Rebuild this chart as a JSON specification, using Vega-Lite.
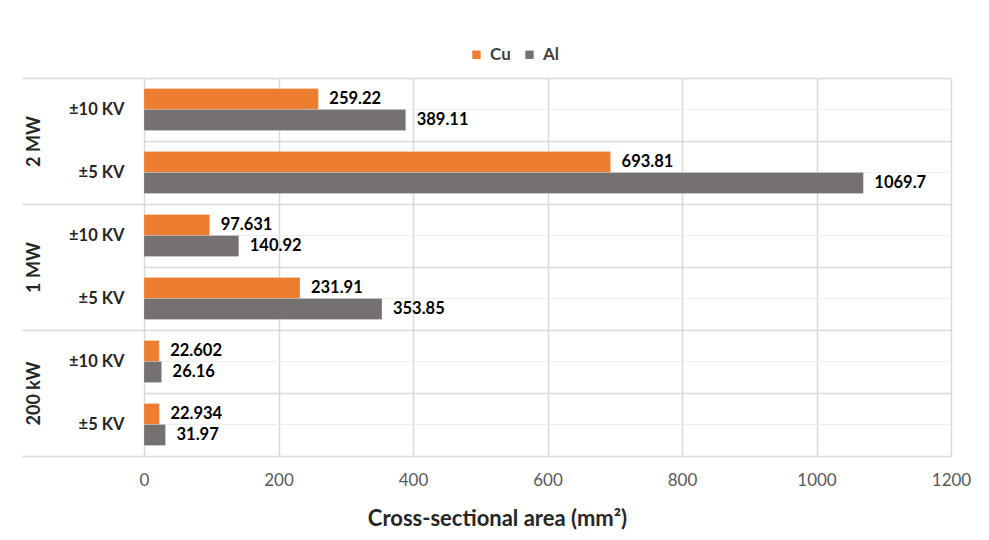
{
  "$schema": "https://vega.github.io/schema/vega-lite/v6.json",
  "autosize": "none",
  "width": 807,
  "height": 378,
  "padding": {"left": 144, "top": 78, "right": 38, "bottom": 84},
  "background": "white",
  "config": {
    "font": "Lato",
    "view": {"stroke": null},
    "axis": {"labelFont": "Lato", "titleFont": "Lato"}
  },
  "data": {
    "values": [
      {"group": "2 MW", "voltage": "±10 KV", "cat": "2 MW|±10 KV", "metal": "Cu", "value": 259.22},
      {"group": "2 MW", "voltage": "±10 KV", "cat": "2 MW|±10 KV", "metal": "Al", "value": 389.11},
      {"group": "2 MW", "voltage": "±5 KV", "cat": "2 MW|±5 KV", "metal": "Cu", "value": 693.81},
      {"group": "2 MW", "voltage": "±5 KV", "cat": "2 MW|±5 KV", "metal": "Al", "value": 1069.7},
      {"group": "1 MW", "voltage": "±10 KV", "cat": "1 MW|±10 KV", "metal": "Cu", "value": 97.631},
      {"group": "1 MW", "voltage": "±10 KV", "cat": "1 MW|±10 KV", "metal": "Al", "value": 140.92},
      {"group": "1 MW", "voltage": "±5 KV", "cat": "1 MW|±5 KV", "metal": "Cu", "value": 231.91},
      {"group": "1 MW", "voltage": "±5 KV", "cat": "1 MW|±5 KV", "metal": "Al", "value": 353.85},
      {"group": "200 kW", "voltage": "±10 KV", "cat": "200 kW|±10 KV", "metal": "Cu", "value": 22.602},
      {"group": "200 kW", "voltage": "±10 KV", "cat": "200 kW|±10 KV", "metal": "Al", "value": 26.16},
      {"group": "200 kW", "voltage": "±5 KV", "cat": "200 kW|±5 KV", "metal": "Cu", "value": 22.934},
      {"group": "200 kW", "voltage": "±5 KV", "cat": "200 kW|±5 KV", "metal": "Al", "value": 31.97}
    ]
  },
  "resolve": {"scale": {"y": "independent"}, "axis": {"y": "independent"}},
  "layer": [
    {
      "mark": {"type": "tick", "opacity": 0},
      "encoding": {
        "y": {
          "field": "cat", "type": "nominal",
          "sort": ["2 MW|±10 KV", "2 MW|±5 KV", "1 MW|±10 KV", "1 MW|±5 KV", "200 kW|±10 KV", "200 kW|±5 KV"],
          "scale": {"paddingInner": 0, "paddingOuter": 0},
          "axis": {"orient": "left", "title": null, "labels": false, "ticks": false, "domain": false, "grid": true, "gridColor": "#efefef", "gridWidth": 1}
        },
        "x": {"field": "value", "type": "quantitative", "scale": {"domain": [0, 1200]}}
      }
    },
    {
      "mark": {"type": "tick", "opacity": 0},
      "encoding": {
        "y": {
          "field": "group", "type": "nominal",
          "sort": ["2 MW", "1 MW", "200 kW"],
          "scale": {"paddingInner": 0, "paddingOuter": 0},
          "axis": {
            "orient": "left", "title": null, "domain": false, "grid": false,
            "tickBand": "extent", "tickSize": 122, "tickColor": "#d9d9d9", "tickWidth": 1.5,
            "labelAngle": -90, "labelAlign": "center", "labelBaseline": "bottom",
            "labelPadding": -21, "labelFontSize": 18, "labelFontWeight": "bold", "labelColor": "#262626"
          }
        },
        "x": {"field": "value", "type": "quantitative", "scale": {"domain": [0, 1200]}}
      }
    },
    {
      "mark": {"type": "bar", "stroke": "#ffffff", "strokeOpacity": 0.4, "strokeWidth": 0.5},
      "encoding": {
        "y": {
          "field": "cat", "type": "nominal",
          "sort": ["2 MW|±10 KV", "2 MW|±5 KV", "1 MW|±10 KV", "1 MW|±5 KV", "200 kW|±10 KV", "200 kW|±5 KV"],
          "scale": {"paddingInner": 0, "paddingOuter": 0},
          "axis": {
            "orient": "left", "title": null, "domain": false, "ticks": false,
            "grid": true, "tickBand": "extent", "gridColor": "#d9d9d9", "gridWidth": 1.5,
            "labelExpr": "split(datum.label, '|')[1]",
            "labelPadding": 20, "labelFontSize": 16.5, "labelFontWeight": "bold", "labelColor": "#262626"
          }
        },
        "yOffset": {
          "field": "metal", "type": "nominal", "sort": ["Cu", "Al"],
          "scale": {"paddingInner": 0, "paddingOuter": 0.5}
        },
        "x": {
          "field": "value", "type": "quantitative",
          "scale": {"domain": [0, 1200], "nice": false},
          "axis": {
            "values": [0, 200, 400, 600, 800, 1000, 1200], "format": "d",
            "grid": true, "gridColor": "#d9d9d9", "gridWidth": 1.5,
            "domain": false, "ticks": false, "tickSize": 0, "labelFlush": false,
            "labelPadding": 16, "labelFontSize": 17, "labelColor": "#595959",
            "title": "Cross-sectional area (mm²)", "titleFontSize": 22, "titleFontWeight": "bold",
            "titleColor": "#262626", "titlePadding": 20, "titleX": 353, "titleAnchor": "middle", "titleAlign": "center"
          }
        },
        "color": {
          "field": "metal", "type": "nominal",
          "scale": {"domain": ["Cu", "Al"], "range": ["#ED7D31", "#767171"]},
          "legend": {
            "title": null, "orient": "none", "direction": "horizontal",
            "legendX": 324, "legendY": -32,
            "symbolType": "square", "symbolSize": 70, "symbolStrokeWidth": 0,
            "labelFontSize": 17, "labelFontWeight": "bold", "labelColor": "#404040",
            "labelOffset": 5, "columnPadding": 10
          }
        }
      }
    },
    {
      "mark": {"type": "text", "align": "left", "baseline": "middle", "dx": 11, "fontSize": 16.5, "fontWeight": "bold", "color": "#000000"},
      "encoding": {
        "y": {
          "field": "cat", "type": "nominal",
          "sort": ["2 MW|±10 KV", "2 MW|±5 KV", "1 MW|±10 KV", "1 MW|±5 KV", "200 kW|±10 KV", "200 kW|±5 KV"],
          "scale": {"paddingInner": 0, "paddingOuter": 0},
          "axis": null
        },
        "yOffset": {"field": "metal", "type": "nominal", "sort": ["Cu", "Al"]},
        "x": {"field": "value", "type": "quantitative", "scale": {"domain": [0, 1200]}},
        "text": {"field": "value", "type": "nominal"}
      }
    }
  ]
}
